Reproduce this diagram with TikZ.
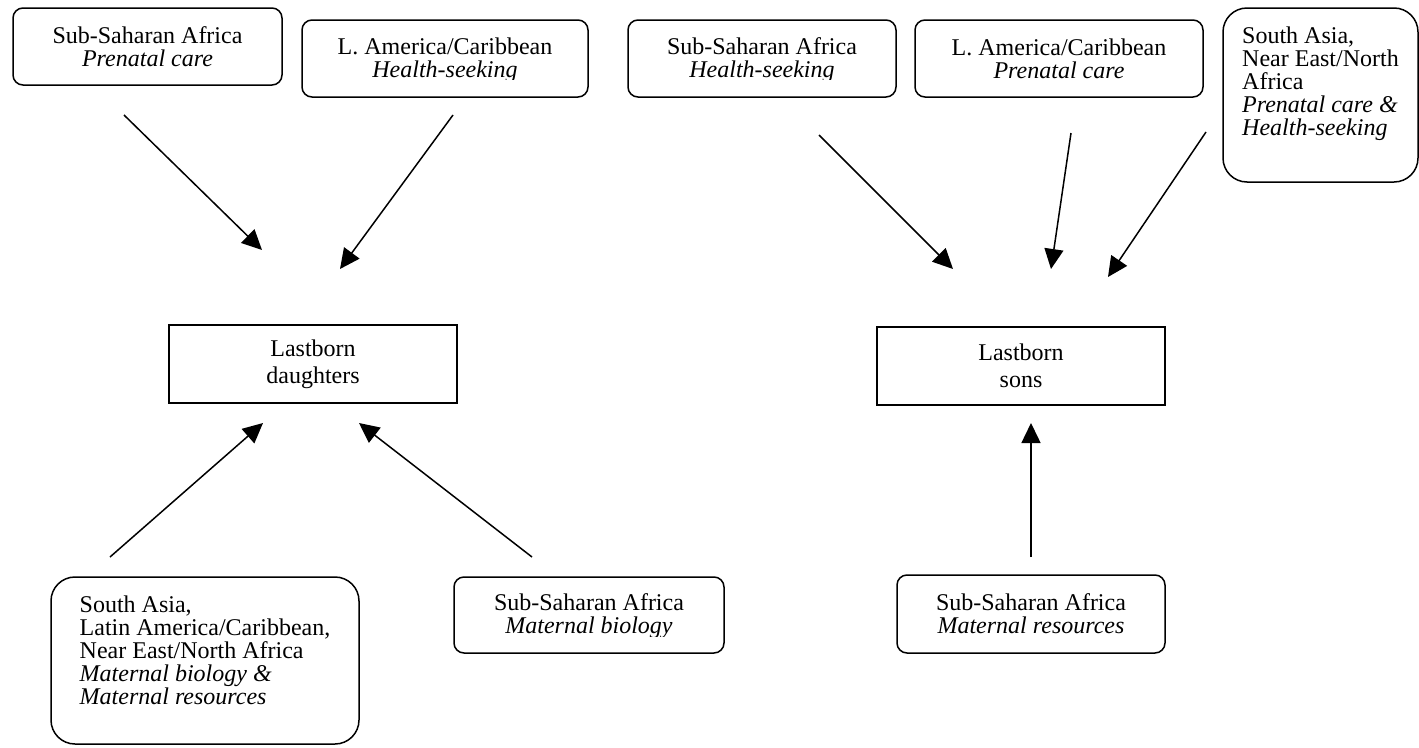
\documentclass[tikz,border=0pt]{standalone}
\usepackage{fontspec}
\setmainfont{Liberation Serif}
\usepackage{trimclip}
\usetikzlibrary{arrows.meta}
% text box cut off just under the baseline
\newcommand{\cutdesc}[1]{\clipbox{0pt 2.5pt 0pt 0pt}{#1}}

\begin{document}
\begin{tikzpicture}[x=1pt, y=-1pt,
      rbox/.style={rectangle, draw, rounded corners=10pt, line width=1.5pt,
        inner sep=0pt, align=center, font=\fontsize{24}{23}\selectfont},
      tall/.style={rbox, rounded corners=24pt, align=left},
      kid/.style={rectangle, draw, line width=2pt, inner sep=0pt,
        minimum width=288pt, minimum height=78pt,
        align=center, font=\fontsize{24}{27}\selectfont,
        execute at begin node={\rule{0pt}{23.5pt}}},
      arr/.style={-{Triangle[length=20pt,width=19pt]}, line width=1.5pt}
    ]
      \useasboundingbox (0,0) rectangle (1419,747);
      % top row
      \node[rbox, minimum width=269pt, minimum height=77pt] (ssaPre) at (147.5,46.5) {Sub-Saharan Africa\\\textit{Prenatal care}};
      \node[rbox, minimum width=286pt, minimum height=77pt] (lacHs)  at (445,58.5)   {L. America/Caribbean\\\cutdesc{\textit{Health-seeking}}};
      \node[rbox, minimum width=268pt, minimum height=77pt] (ssaHs)  at (762,58.5)   {Sub-Saharan Africa\\\cutdesc{\textit{Health-seeking}}};
      \node[rbox, minimum width=288pt, minimum height=77pt] (lacPre) at (1059,58.5)  {L. America/Caribbean\\\textit{Prenatal care}};
      \node[tall, minimum width=195pt] (saNe) at (1320.5,95)
        {\rule{0pt}{35pt}South Asia,\\Near East/North\\Africa\\\textit{Prenatal care \&}\\\textit{Health-seeking}\rule[-47pt]{0pt}{0pt}};
      % outcomes
      \node[kid] (dtr)  at (313,364)  {Lastborn\\daughters};
      \node[kid] (sons) at (1021,365.5) {Lastborn\\sons};
      % bottom row
      \node[tall, minimum width=308pt] (saLacNe) at (205,660.5)
        {\rule{0pt}{35pt}South Asia,\\Latin America/Caribbean,\\Near East/North Africa\\\textit{Maternal biology \&}\\\textit{Maternal resources}\rule[-40pt]{0pt}{0pt}};
      \node[rbox, minimum width=270pt, minimum height=76pt] (ssaBio) at (589,615)  {Sub-Saharan Africa\\\cutdesc{\textit{Maternal biology}}};
      \node[rbox, minimum width=268pt, minimum height=78pt] (ssaRes) at (1031,614) {Sub-Saharan Africa\\\textit{Maternal resources}};
      % arrow ends
      \coordinate (ssaPre-t) at (124,115);  \coordinate (dtr-h1) at (262,250);
      \coordinate (lacHs-t)  at (453,115);  \coordinate (dtr-h2) at (340,269);
      \coordinate (ssaHs-t)  at (819,135);  \coordinate (sons-h1) at (953,269);
      \coordinate (lacPre-t) at (1071,133); \coordinate (sons-h2) at (1051,269);
      \coordinate (saNe-t)   at (1206,132); \coordinate (sons-h3) at (1108,277);
      \coordinate (saLacNe-t) at (110,557); \coordinate (dtr-h3) at (263,423);
      \coordinate (ssaBio-t) at (532,557);  \coordinate (dtr-h4) at (359,423);
      \coordinate (ssaRes-t) at (1031,557); \coordinate (sons-h4) at (1031,423);
      \draw[arr] (ssaPre-t)--(dtr-h1); \draw[arr] (lacHs-t)--(dtr-h2);
      \draw[arr] (saLacNe-t)--(dtr-h3); \draw[arr] (ssaBio-t)--(dtr-h4);
      \draw[arr] (ssaHs-t)--(sons-h1); \draw[arr] (lacPre-t)--(sons-h2);
      \draw[arr] (saNe-t)--(sons-h3); \draw[arr] (ssaRes-t)--(sons-h4);
    \end{tikzpicture}
\end{document}
